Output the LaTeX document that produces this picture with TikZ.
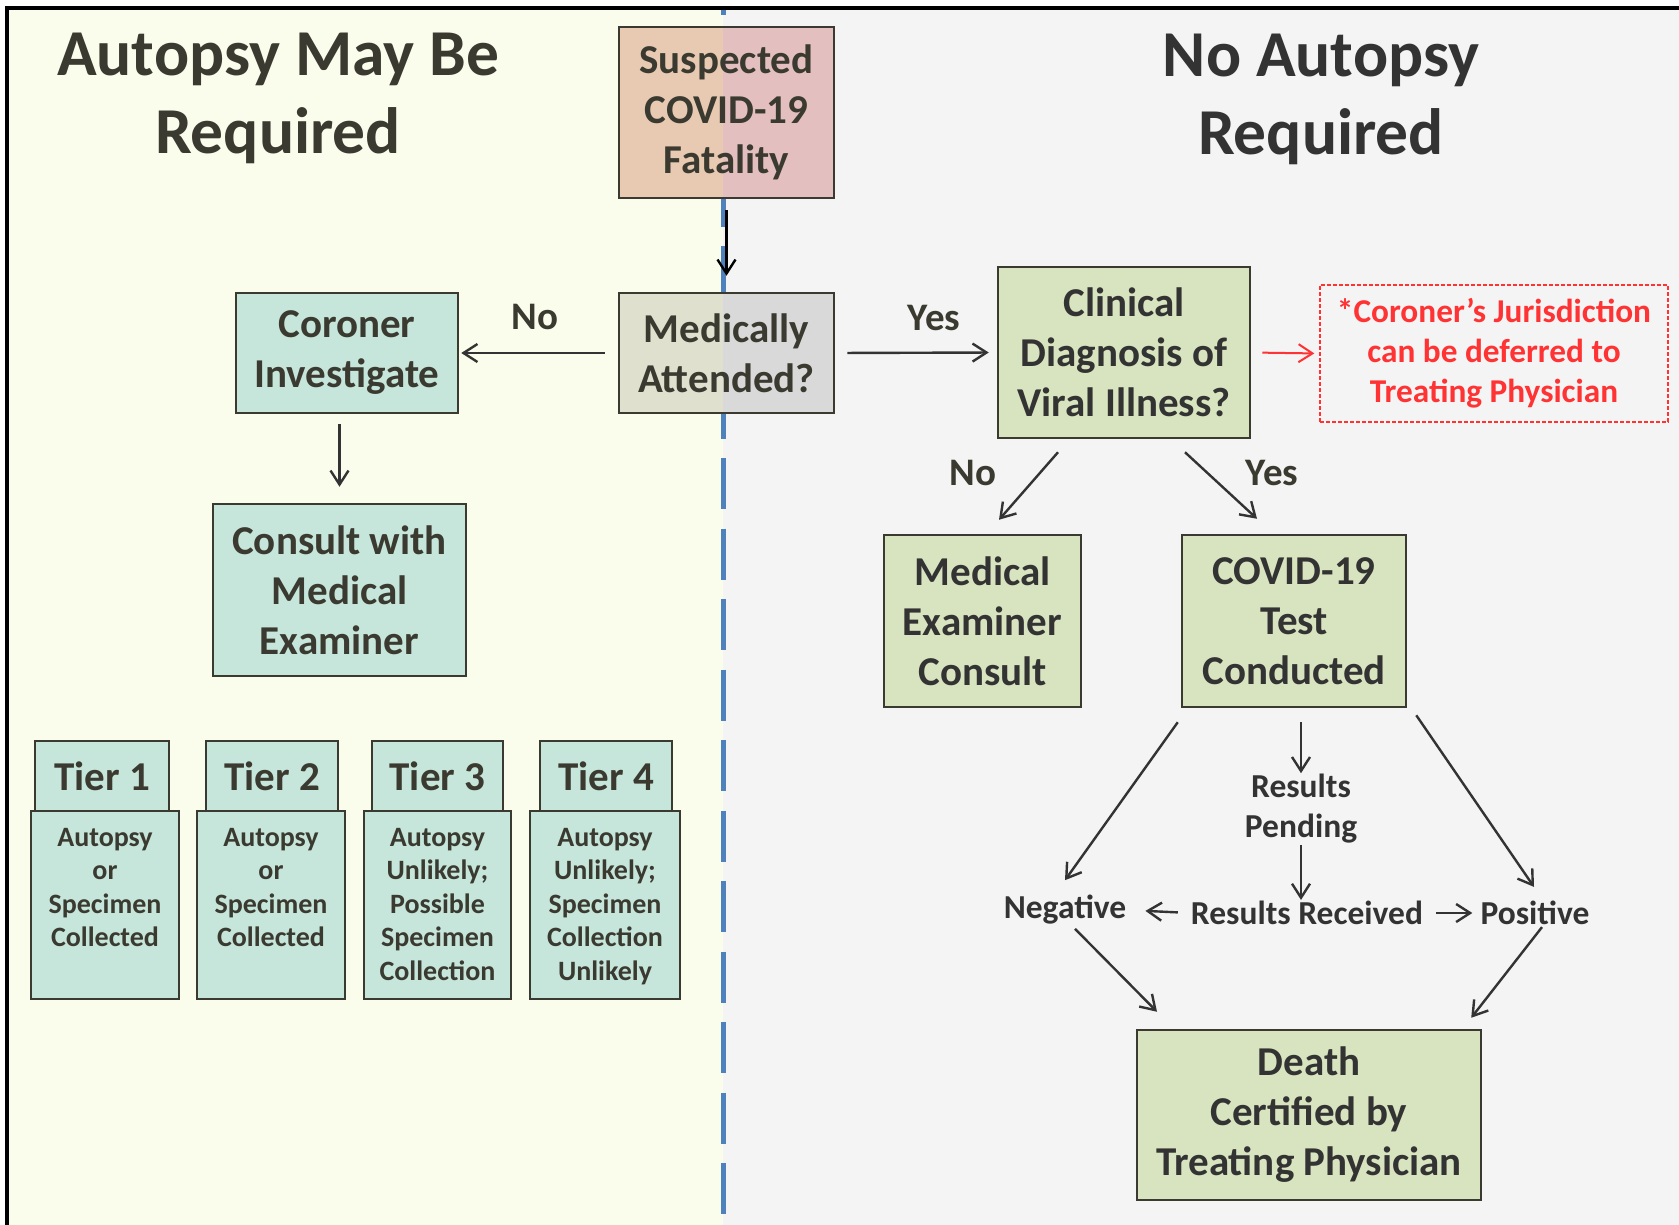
\documentclass[tikz,border=0pt]{standalone}
\usepackage{fontspec}
\setmainfont{Carlito}
\usetikzlibrary{arrows.meta}
\definecolor{bgL}{HTML}{FAFDEB}
\definecolor{bgR}{HTML}{F4F4F4}
\definecolor{mint}{HTML}{C6E5DB}
\definecolor{sage}{HTML}{D8E4BF}
\definecolor{suspL}{HTML}{E8C9B1}
\definecolor{suspR}{HTML}{E3BFBF}
\definecolor{medL}{HTML}{DFE1CE}
\definecolor{medR}{HTML}{D9D9D9}
\definecolor{edge}{HTML}{3A3A30}
\definecolor{txt}{HTML}{3A3A30}
\definecolor{txtR}{HTML}{333333}
\definecolor{arrowcol}{HTML}{333333}
\definecolor{divblue}{HTML}{4F81BD}
\definecolor{alert}{HTML}{FF3333}
\begin{document}
\begin{tikzpicture}[x=1pt,y=-1pt,
  boxfont/.style={font=\fontsize{41}{50}\selectfont\bfseries},
  box/.style={draw=edge, line width=2.5pt, align=center, inner sep=0pt, text=txt, boxfont},
  title/.style={align=center, inner sep=0pt, font=\fontsize{65.5}{78}\selectfont\bfseries},
  tierhead/.style={box, fill=mint, font=\fontsize{41}{48}\selectfont\bfseries},
  tierbody/.style={draw=edge, line width=2.5pt, fill=mint, inner sep=0pt, minimum height=188pt},
  tiertext/.style={align=center, inner sep=0pt, text=txt, font=\fontsize{28}{33.5}\selectfont\bfseries},
  lbl/.style={inner sep=0pt, text=txt, font=\fontsize{39}{48}\selectfont\bfseries},
  small/.style={inner sep=0pt, align=center, text=txtR, font=\fontsize{33.5}{40}\selectfont\bfseries},
  arr/.style={draw=arrowcol, line width=2.4pt, -{Straight Barb[length=14pt,width=18pt]}},
  divider/.style={draw=divblue, line width=5pt, dash pattern=on 51pt off 19.5pt, dash phase=45.5pt}
]
\useasboundingbox (0,0) rectangle (1679,1225);
\fill[white] (0,0) rectangle (1679,1225);
\fill[bgL] (9,10) rectangle (723,1225);
\fill[bgR] (723,10) rectangle (1679,1225);
\fill[black] (5,6) rectangle (1679,10);
\fill[black] (5,6) rectangle (9,1225);
\draw[divider] (723,10) -- (723,1225);

% titles
\node[title, anchor=north, text=txt] (tL) at (278,33) {Autopsy May Be\\Required};
\node[title, anchor=north, text=txtR] (tR) at (1321,34) {No Autopsy\\Required};

% main boxes
\node[box, fill=suspL, minimum width=215pt, minimum height=171pt,
  path picture={\fill[suspR] ([xshift=-3.5pt]path picture bounding box.north) rectangle (path picture bounding box.south east);}]
  (susp) at (726.5,112.5) {Suspected\\COVID-19\\Fatality};
\node[box, fill=medL, minimum width=215pt, minimum height=120pt,
  path picture={\fill[medR] ([xshift=-3.5pt]path picture bounding box.north) rectangle (path picture bounding box.south east);}]
  (med) at (726.5,353) {Medically\\Attended?};
\node[box, fill=mint, minimum width=222pt, minimum height=120pt] (cor) at (347,353) {Coroner\\Investigate};
\node[box, fill=mint, minimum width=253pt, minimum height=172pt] (cons) at (339.5,590) {Consult with\\Medical\\Examiner};
\node[box, fill=sage, minimum width=252pt, minimum height=171pt, text=txtR] (clin) at (1124,352.5) {Clinical\\Diagnosis of\\Viral Illness?};
\node[draw=alert, line width=1.3pt, dash pattern=on 4pt off 2pt, minimum width=348pt, minimum height=137pt,
  align=center, inner sep=0pt, text=alert, font=\fontsize{33.3}{40}\selectfont\bfseries]
  (note) at (1494,353.5) {*Coroner’s Jurisdiction\\can be deferred to\\Treating Physician};
\node[box, fill=sage, minimum width=197pt, minimum height=172pt, text=txtR] (mex) at (982.5,621) {Medical\\Examiner\\Consult};
\node[box, fill=sage, minimum width=224pt, minimum height=172pt, text=txtR] (test) at (1294,621) {COVID-19\\Test\\Conducted};
\node[box, fill=sage, minimum width=344pt, minimum height=170pt, text=txtR] (death) at (1309,1115) {Death\\Certified by\\Treating Physician};

% tiers
\node[tierhead, minimum width=134pt, minimum height=70pt] (h1) at (102,776) {Tier 1};
\node[tierhead, minimum width=132pt, minimum height=70pt] (h2) at (272,776) {Tier 2};
\node[tierhead, minimum width=131pt, minimum height=70pt] (h3) at (437.5,776) {Tier 3};
\node[tierhead, minimum width=132pt, minimum height=70pt] (h4) at (606,776) {Tier 4};
\node[tierbody, minimum width=148pt, label={[tiertext, anchor=north, yshift=-18pt]north:Autopsy\\or\\Specimen\\Collected}] (b1) at (105,905) {};
\node[tierbody, minimum width=148pt, label={[tiertext, anchor=north, yshift=-18pt]north:Autopsy\\or\\Specimen\\Collected}] (b2) at (271,905) {};
\node[tierbody, minimum width=147pt, label={[tiertext, anchor=north, yshift=-18pt]north:Autopsy\\Unlikely;\\Possible\\Specimen\\Collection}] (b3) at (437.5,905) {};
\node[tierbody, minimum width=150pt, label={[tiertext, anchor=north, yshift=-18pt]north:Autopsy\\Unlikely;\\Specimen\\Collection\\Unlikely}] (b4) at (605,905) {};

% result labels
\node[small] (pend) at (1301,809) {Results\\Pending};
\node[small] (recv) at (1307,913) {Results Received};
\node[small] (neg) at (1065,910) {Negative};
\node[small] (pos) at (1535,913) {Positive};

% edge labels
\node[lbl] (lNo1) at (535,317) {No};
\node[lbl] (lYes1) at (934,318) {Yes};
\node[lbl] (lNo2) at (973,473) {No};
\node[lbl] (lYes2) at (1272,473) {Yes};

% connectors
\draw[arr, draw=black, shorten <=11pt, shorten >=16pt] (susp.south) -- (med.north);
\draw[arr, shorten <=13pt, shorten >=2pt] (med.west) -- (cor.east);
\draw[arr, shorten <=12pt, shorten >=8pt] (med.east) -- (clin.west);
\draw[arr, draw=alert, line width=2pt, shorten <=11pt, shorten >=5pt] (clin.east) -- (note.west);
\draw[arr, shorten <=10pt, shorten >=16pt] (cons.north |- cor.south) -- (cons.north);
\draw[arr] ([xshift=-66pt,yshift=-13pt]clin.south) -- ([xshift=16.5pt,yshift=14pt]mex.north);
\draw[arr] ([xshift=61pt,yshift=-13pt]clin.south) -- ([xshift=-37pt,yshift=15pt]test.north);
\draw[arr, shorten <=14pt, shorten >=1pt] (pend.north |- test.south) -- (pend.north);
\draw[arr, shorten <=1pt, shorten >=1pt] (pend.south) -- (pend.south |- recv.north);
\draw[arr, shorten <=13pt, shorten >=19pt] (recv.west) -- (neg.east);
\draw[arr, shorten <=13pt, shorten >=8pt] (recv.east) -- (pos.west);
\draw[arr] ([xshift=-3pt,yshift=-14pt]test.south west) -- ([yshift=15pt]neg.north);
\draw[arr] ([xshift=9pt,yshift=-7pt]test.south east) -- ([xshift=-1pt,yshift=14pt]pos.north);
\draw[arr] ([xshift=10pt,yshift=-4pt]neg.south) -- ([xshift=-152pt,yshift=17pt]death.north);
\draw[arr] ([xshift=7pt,yshift=-2pt]pos.south) -- ([xshift=-11pt,yshift=11pt]death.north east);
\end{tikzpicture}
\end{document}
